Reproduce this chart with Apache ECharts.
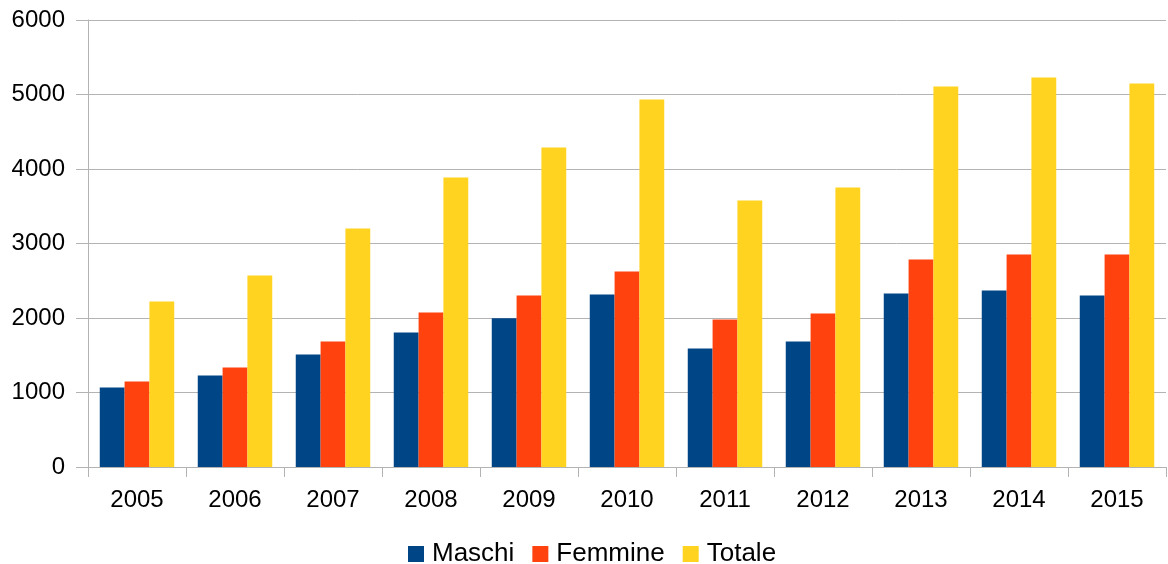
<!DOCTYPE html>
<html><head><meta charset="utf-8">
<script src="https://cdn.jsdelivr.net/npm/echarts@6/dist/echarts.min.js"></script>
<style>html,body{margin:0;padding:0;background:#fff}#c{width:1168px;height:564px}</style>
</head><body><div id="c"></div>
<script>
const categories = ['2005','2006','2007','2008','2009','2010','2011','2012','2013','2014','2015'];
const maschi  = [1067,1228,1510,1805,1997,2315,1591,1685,2329,2369,2302];
const femmine = [1148,1336,1685,2074,2302,2624,1980,2060,2785,2852,2852];
const totale  = [2221,2570,3200,3886,4289,4933,3577,3752,5107,5228,5148];
const seriesNames = ['Maschi','Femmine','Totale'];
const colors = ['#004586','#ff420e','#ffd320'];
const font = 'Liberation Sans, Arial, sans-serif';
const chart = echarts.init(document.getElementById('c'), null, {renderer:'canvas'});
chart.setOption({
  animation:false,
  color: colors,
  grid:{left:88,right:2,top:20,bottom:97,containLabel:false},
  legend:{top:541,left:408,itemWidth:16,itemHeight:16,itemGap:18,icon:'rect',padding:0,
    textStyle:{fontFamily:font,fontSize:26,color:'#000',padding:[0,0,0,3]},data:seriesNames},
  xAxis:{type:'category',data:categories,
    axisLine:{lineStyle:{color:'#b3b3b3',width:1}},
    axisTick:{show:true,length:10,lineStyle:{color:'#b3b3b3'}},
    axisLabel:{fontFamily:font,fontSize:24,color:'#000',margin:21}},
  yAxis:{type:'value',min:0,max:6000,interval:1000,
    axisLine:{show:true,lineStyle:{color:'#b3b3b3'}},
    axisTick:{show:true,length:12,lineStyle:{color:'#b3b3b3'}},
    splitLine:{lineStyle:{color:'#b3b3b3'}},
    axisLabel:{fontFamily:font,fontSize:24,color:'#000',margin:23,formatter:v=>String(v)}},
  series:[
    {name:seriesNames[0],type:'bar',data:maschi,barGap:'0%',barCategoryGap:'24%'},
    {name:seriesNames[1],type:'bar',data:femmine,barGap:'0%',barCategoryGap:'24%'},
    {name:seriesNames[2],type:'bar',data:totale,barGap:'0%',barCategoryGap:'24%'}
  ]
});
</script></body></html>
